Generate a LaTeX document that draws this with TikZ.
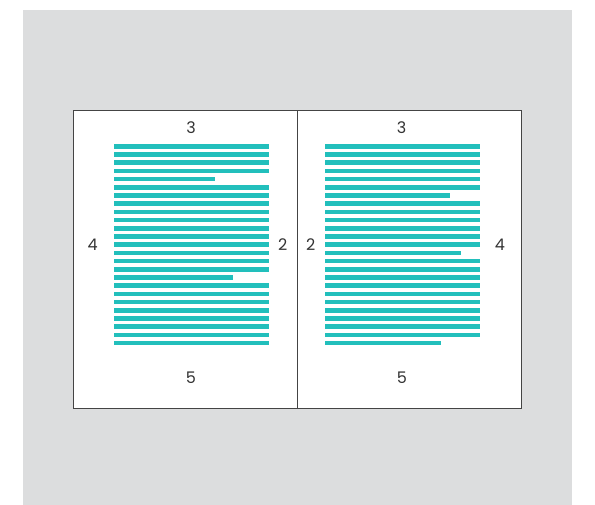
\documentclass[tikz,border=0pt]{standalone}
\usepackage{fontspec}
\setmainfont{Poppins}
\definecolor{bg}{HTML}{DCDDDE}
\definecolor{teal}{HTML}{22BFBC}
\definecolor{edge}{HTML}{444444}
\definecolor{txt}{HTML}{333333}
\tikzset{
  pagebox/.style={draw=edge, line width=0.9pt, fill=white},
  bar/.style={fill=teal, draw=none},
  num/.style={text=txt, font=\fontsize{16}{16}\selectfont, inner sep=0pt}
}
\begin{document}
\begin{tikzpicture}[x=1pt,y=-1pt]
\useasboundingbox (0,0) rectangle (595,505);
\fill[bg] (23,10) rectangle (572,505);
\path[pagebox] (73,110) rectangle (297.3,408);
\path[pagebox] (297.3,110) rectangle (521,408);
% left page bars
\foreach \i in {0,...,24} {
  \pgfmathsetmacro\yy{144+\i*8.2}
  \ifnum\i=4
    \fill[bar] (114,\yy) rectangle (215,\yy+4.7);
  \else\ifnum\i=16
    \fill[bar] (114,\yy) rectangle (233,\yy+4.7);
  \else
    \fill[bar] (114,\yy) rectangle (269.3,\yy+4.7);
  \fi\fi
}
% right page bars
\foreach \i in {0,...,24} {
  \pgfmathsetmacro\yy{144+\i*8.2}
  \ifnum\i=6
    \fill[bar] (324.7,\yy) rectangle (450,\yy+4.7);
  \else\ifnum\i=13
    \fill[bar] (324.7,\yy) rectangle (460.7,\yy+4.7);
  \else\ifnum\i=24
    \fill[bar] (324.7,\yy) rectangle (441,\yy+4.7);
  \else
    \fill[bar] (324.7,\yy) rectangle (480,\yy+4.7);
  \fi\fi\fi
}
\node[num] (l3) at (191,127.5) {3};
\node[num] (l4) at (92.7,245) {4};
\node[num] (l2) at (282.7,245) {2};
\node[num] (l5) at (191,377.3) {5};
\node[num] (r3) at (401.7,127.5) {3};
\node[num] (r2) at (310.7,245) {2};
\node[num] (r4) at (500,245) {4};
\node[num] (r5) at (402,377.3) {5};
\end{tikzpicture}
\end{document}
